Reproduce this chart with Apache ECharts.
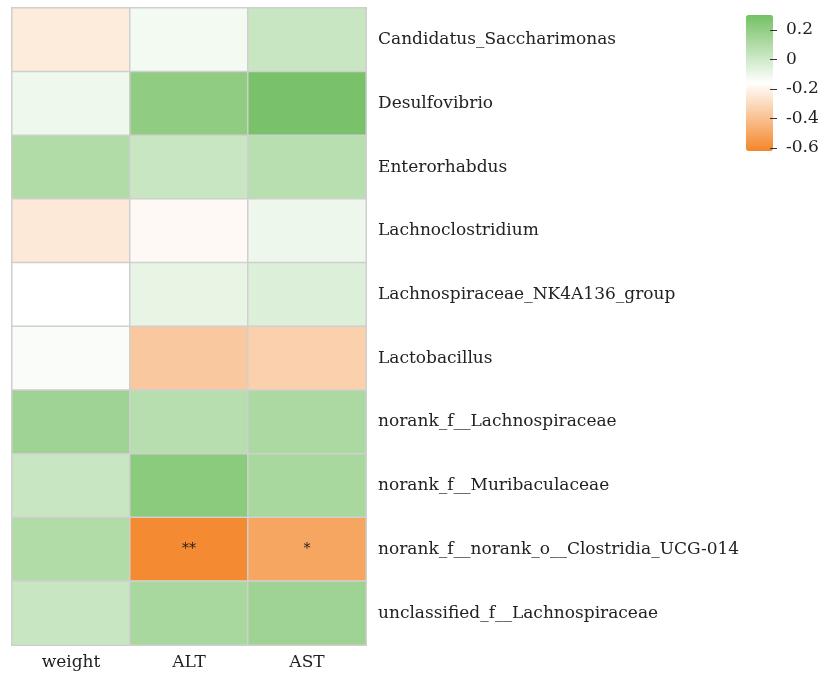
<!DOCTYPE html>
<html>
<head>
<meta charset="utf-8">
<script src="https://cdn.jsdelivr.net/npm/echarts@6/dist/echarts.min.js"></script>
<style>
  html, body { margin: 0; padding: 0; background: #fff; }
  #chart { width: 820px; height: 675px; }
</style>
</head>
<body>
<div id="chart"></div>
<script>
const traits = ['weight', 'ALT', 'AST']
const genera = [
  'Candidatus_Saccharimonas',
  'Desulfovibrio',
  'Enterorhabdus',
  'Lachnoclostridium',
  'Lachnospiraceae_NK4A136_group',
  'Lactobacillus',
  'norank_f__Lachnospiraceae',
  'norank_f__Muribaculaceae',
  'norank_f__norank_o__Clostridia_UCG-014',
  'unclassified_f__Lachnospiraceae'
]
// correlation per genus: [weight, ALT, AST]
const weightVals = [-0.235, -0.107, 0.098, -0.245, -0.16, -0.14, 0.16, 0.02, 0.098, 0.02]
const altVals = [-0.12, 0.208, 0.02, -0.183, -0.084, -0.37, 0.08, 0.223, -0.6, 0.125]
const astVals = [0.02, 0.285, 0.075, -0.1, -0.044, -0.34, 0.116, 0.125, -0.5, 0.16]
const altSig = ['', '', '', '', '', '', '', '', '**', '']
const astSig = ['', '', '', '', '', '', '', '', '*', '']
const legendTicks = [0.2, 0, -0.2, -0.4, -0.6]

const cols = [weightVals, altVals, astVals]
const sigs = [[], altSig, astSig]
const data = []
cols.forEach((vals, x) => {
  vals.forEach((v, y) => {
    data.push({ value: [x, y, v], sig: sigs[x][y] || '' })
  })
})

const font = '"DejaVu Serif", "Liberation Serif", serif'

const option = {
  animation: false,
  textStyle: { fontFamily: font },
  grid: [
    { left: 12, right: 454, top: 8, bottom: 30 },
    // thin strip just for the legend's tick axis
    { left: 770, width: 1, top: 30, height: 118 }
  ],
  xAxis: [
    {
      type: 'category', data: traits, gridIndex: 0,
      axisLine: { show: false }, axisTick: { show: false },
      axisLabel: { fontSize: 17, color: '#222', margin: 9, fontFamily: font }
    },
    { type: 'value', gridIndex: 1, show: false }
  ],
  yAxis: [
    {
      type: 'category', data: genera, gridIndex: 0, position: 'right', inverse: true,
      axisLine: { show: false }, axisTick: { show: false },
      axisLabel: { fontSize: 17, color: '#222', margin: 12, fontFamily: font }
    },
    {
      type: 'value', gridIndex: 1, position: 'left', min: -0.6, max: 0.2, interval: 0.2,
      z: 10,
      axisLine: { show: true, lineStyle: { color: 'rgba(0,0,0,0)' } },
      splitLine: { show: false },
      axisTick: { show: true, inside: true, length: 7, lineStyle: { color: '#333', width: 1 } },
      axisLabel: {
        inside: true,
        fontSize: 17, color: '#222', margin: 16, fontFamily: font,
        formatter: v => legendTicks.includes(Math.round(v * 10) / 10) ? String(Math.round(v * 10) / 10) : ''
      }
    }
  ],
  visualMap: {
    type: 'continuous',
    min: -0.62, max: 0.3,
    seriesIndex: 0,
    calculable: false,
    orient: 'vertical',
    left: 746, top: 15,
    itemWidth: 27, itemHeight: 136,
    padding: 0,
    text: null,
    showLabel: false,
    z: 2,
    inRange: { color: ['#f4862a', '#ffffff', '#74c064'] }
  },
  series: [
    {
      type: 'heatmap',
      xAxisIndex: 0, yAxisIndex: 0,
      data: data,
      itemStyle: { borderColor: '#cfcfcf', borderWidth: 1.5 },
      label: {
        show: true,
        color: '#222',
        fontSize: 14,
        formatter: p => p.data.sig
      },
      emphasis: { disabled: true }
    }
  ]
}

const chart = echarts.init(document.getElementById('chart'))
chart.setOption(option)
</script>
</body>
</html>
